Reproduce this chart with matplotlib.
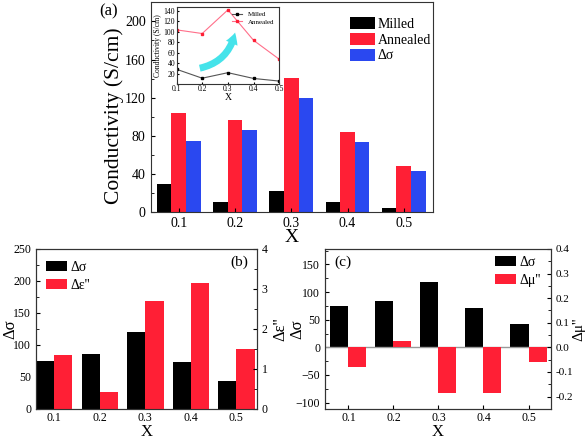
import numpy as np
import matplotlib.pyplot as plt
from matplotlib.patches import FancyArrowPatch
from matplotlib.ticker import MultipleLocator

plt.rcParams['font.family'] = ['Liberation Serif', 'DejaVu Serif']
plt.rcParams['xtick.direction'] = 'in'
plt.rcParams['ytick.direction'] = 'in'
plt.rcParams['axes.edgecolor'] = '#333333'

# data
x = np.array([0.1, 0.2, 0.3, 0.4, 0.5])
milled = [30, 11, 22, 10.5, 5]
annealed = [104, 97, 141, 84.5, 48.5]
dsigma_a = [75, 86, 119.5, 74, 43.5]

inset_milled = [29, 12, 22.5, 11.5, 6.5]
inset_annealed = [104, 97, 142, 84, 48]

dsigma_b = [75, 86, 119.5, 73.5, 43.5]
deps = [1.35, 0.41, 2.69, 3.15, 1.5]

dsigma_c = [75, 84.5, 117.5, 72, 42]
dmu = [-0.08, 0.025, -0.184, -0.184, -0.058]

xticklabels = ['0.1', '0.2', '0.3', '0.4', '0.5']

RED = '#FF1F35'
BLUE = '#2A48F0'

fig = plt.figure(figsize=(5.86, 4.42), dpi=100)

# ---- panel (a)
ax = fig.add_axes([0.257, 0.5197, 0.482, 0.4751])
w = 0.026
ax.bar(x - w, milled, w, color='black', label='Milled')
ax.bar(x, annealed, w, color=RED, label='Annealed')
ax.bar(x + w, dsigma_a, w, color=BLUE, label='Δσ')
ax.set_xlim(0.05, 0.552)
ax.set_ylim(0, 220)
ax.set_xticks(x)
ax.set_xticklabels(xticklabels)
ax.set_yticks(np.arange(0, 201, 40))
ax.yaxis.set_minor_locator(MultipleLocator(20))
ax.tick_params(labelsize=10, length=3)
ax.tick_params(which='minor', length=2)
ax.set_ylabel('Conductivity (S/cm)', fontsize=15.5)
ax.yaxis.set_label_coords(-0.095, 0.46)
ax.set_xlabel('X', fontsize=14, labelpad=-1)
ax.legend(loc='upper left', bbox_to_anchor=(0.705, 0.93), frameon=False,
          fontsize=10, handlelength=1.8, handleheight=0.95, labelspacing=0.15,
          handletextpad=0.2, borderpad=0, borderaxespad=0)
fig.text(0.185, 0.975, '(a)', fontsize=12, ha='center', va='center')

# inset
ins = fig.add_axes([0.3012, 0.810, 0.1754, 0.1748])
ins.plot(x, inset_milled, '-s', color='#555555', mfc='black', mec='black',
         ms=2, lw=0.8, label='Milled')
ins.plot(x, inset_annealed, '-s', color='#FF6F8A', mfc=RED, mec=RED,
         ms=2, lw=0.8, label='Annealed')
ins.set_xlim(0.1, 0.5)
ins.set_ylim(1, 148)
ins.set_xticks(x)
ins.set_xticklabels(xticklabels)
ins.set_yticks(np.arange(20, 141, 20))
ins.tick_params(labelsize=5.5, length=1.5, pad=1)
ins.set_ylabel('Conductivity (S/cm)', fontsize=5.5, labelpad=1)
ins.set_xlabel('X', fontsize=7, labelpad=0)
ins.legend(loc='upper right', frameon=False, fontsize=5, handlelength=1.5,
           labelspacing=0.2, borderaxespad=0.3)
arrow = FancyArrowPatch((0.18, 30), (0.33, 104),
                        connectionstyle='arc3,rad=0.35',
                        arrowstyle='simple,head_width=9,head_length=8,tail_width=5',
                        color='#45E3EA', lw=0)
ins.add_patch(arrow)

# ---- panel (b)
axb = fig.add_axes([0.0614, 0.075, 0.377, 0.3617])
wb = 0.04
axb.bar(x - wb / 2, dsigma_b, wb, color='black', label='Δσ')
axb.set_xlim(0.06, 0.545)
axb.set_ylim(0, 250)
axb.set_yticks(np.arange(0, 251, 50))
axb.yaxis.set_minor_locator(MultipleLocator(25))
axb.set_xticks(x)
axb.set_xticklabels(xticklabels)
axb.tick_params(labelsize=8.5, length=3)
axb.tick_params(axis='x', pad=2.5)
axb.tick_params(which='minor', length=2)
axb.set_ylabel('Δσ', fontsize=12)
axb.yaxis.set_label_coords(-0.08, 0.5)
axb.set_xlabel('X', fontsize=12, labelpad=0)
axb2 = axb.twinx()
axb2.bar(x + wb / 2, deps, wb, color=RED, label="Δε''")
axb2.set_ylim(0, 4)
axb2.set_yticks(np.arange(0, 5, 1))
axb2.yaxis.set_minor_locator(MultipleLocator(0.5))
axb2.tick_params(labelsize=8.5, length=3)
axb2.tick_params(which='minor', length=2)
axb2.set_ylabel("Δε''", fontsize=12)
axb2.yaxis.set_label_coords(1.07, 0.5)
h1, l1 = axb.get_legend_handles_labels()
h2, l2 = axb2.get_legend_handles_labels()
axb.legend(h1 + h2, l1 + l2, loc='upper left', bbox_to_anchor=(0.045, 0.925),
           frameon=False, fontsize=10, handlelength=1.5, handleheight=0.75,
           labelspacing=0.35, handletextpad=0.3, borderpad=0, borderaxespad=0)
axb.text(0.92, 0.92, '(b)', transform=axb.transAxes, fontsize=11,
         ha='center', va='center')

# ---- panel (c)
axc = fig.add_axes([0.5546, 0.075, 0.3857, 0.3617])
axc.bar(x - wb / 2, dsigma_c, wb, color='black', label='Δσ')
axc.axhline(0, color='#999999', lw=1)
axc.set_xlim(0.048, 0.55)
axc.set_ylim(-111.3, 178)
axc.set_yticks(np.arange(-100, 151, 50))
axc.yaxis.set_minor_locator(MultipleLocator(25))
axc.set_xticks(x)
axc.set_xticklabels(xticklabels)
axc.tick_params(labelsize=8.5, length=3)
axc.tick_params(axis='x', pad=2.5)
axc.tick_params(which='minor', length=2)
axc.set_ylabel('Δσ', fontsize=12)
axc.yaxis.set_label_coords(-0.085, 0.5)
axc.set_xlabel('X', fontsize=12, labelpad=0)
axc2 = axc.twinx()
axc2.bar(x + wb / 2, dmu, wb, color=RED, label="Δμ''")
axc2.set_ylim(-0.25, 0.4)
axc2.set_yticks(np.arange(-0.2, 0.41, 0.1))
axc2.set_yticklabels(['-0.2', '-0.1', '0.0', '0.1', '0.2', '0.3', '0.4'])
axc2.yaxis.set_minor_locator(MultipleLocator(0.05))
axc2.tick_params(labelsize=8, length=3, pad=3)
axc2.tick_params(which='minor', length=2)
axc2.set_ylabel("Δμ''", fontsize=11)
axc2.yaxis.set_label_coords(1.093, 0.5)
h1, l1 = axc.get_legend_handles_labels()
h2, l2 = axc2.get_legend_handles_labels()
axc.legend(h1 + h2, l1 + l2, loc='upper left', bbox_to_anchor=(0.752, 0.958),
           frameon=False, fontsize=10, handlelength=1.5, handleheight=0.75,
           labelspacing=0.35, handletextpad=0.3, borderpad=0, borderaxespad=0)
axc.text(0.08, 0.92, '(c)', transform=axc.transAxes, fontsize=11,
         ha='center', va='center')

fig.savefig('out.png', dpi=100)
